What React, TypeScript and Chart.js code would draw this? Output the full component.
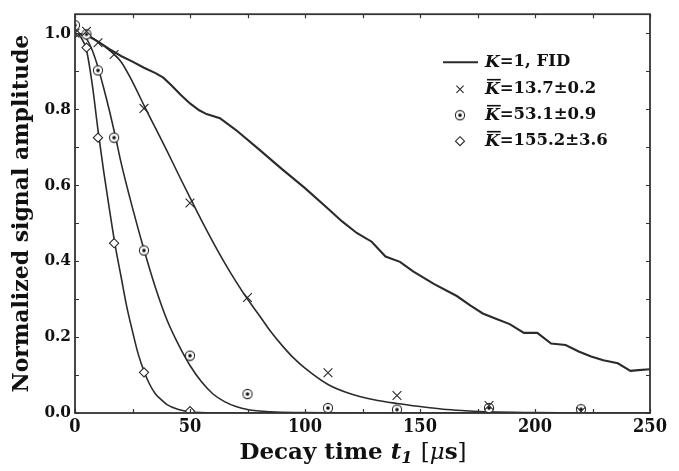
import React, { useEffect, useRef } from 'react';
import { Chart, registerables } from 'chart.js';

Chart.register(...registerables);

// ---------- data ----------
const fidT = [0, 5, 10, 15, 20, 25, 30, 35, 38.4, 42, 45.7, 50, 54, 57.2, 63, 70, 80, 90, 100, 110.9, 116, 122.5, 129, 135, 141.3, 147, 156, 166, 172, 177.3, 183, 189, 195.2, 201, 207, 213.3, 219, 224.4, 229.7, 236, 241.5, 245, 250];
const fidY = [1.0, 0.995, 0.978, 0.958, 0.94, 0.925, 0.909, 0.895, 0.883, 0.862, 0.839, 0.815, 0.797, 0.787, 0.776, 0.745, 0.694, 0.642, 0.592, 0.533, 0.505, 0.474, 0.451, 0.412, 0.398, 0.373, 0.34, 0.308, 0.283, 0.262, 0.248, 0.234, 0.211, 0.211, 0.183, 0.179, 0.162, 0.149, 0.139, 0.131, 0.111, 0.113, 0.115];

const fitAT = [0, 5, 10, 15, 20, 25, 30, 35, 40, 45, 50, 55, 60, 65, 70, 75, 80, 85, 90, 95, 100, 110, 120, 130, 140, 150, 160, 170, 180, 200, 220, 250];
const fitAY = [1.0, 0.995, 0.978, 0.955, 0.925, 0.872, 0.81, 0.75, 0.69, 0.628, 0.567, 0.507, 0.45, 0.396, 0.346, 0.3, 0.258, 0.215, 0.178, 0.145, 0.118, 0.075, 0.05, 0.035, 0.025, 0.017, 0.01, 0.006, 0.003, 0.001, 0, 0];

const fitBT = [0, 2.5, 5, 7.5, 10, 12.5, 15, 17.5, 20, 25, 30, 35, 40, 45, 50, 55, 60, 65, 70, 75, 85, 100, 120, 250];
const fitBY = [1.0, 0.997, 0.985, 0.955, 0.91, 0.855, 0.795, 0.73, 0.66, 0.54, 0.43, 0.33, 0.245, 0.18, 0.125, 0.082, 0.05, 0.03, 0.017, 0.009, 0.003, 0.001, 0, 0];

const fitCT = [0, 2.5, 5, 7.5, 10, 12.5, 15, 17.5, 20, 22.5, 25, 27.5, 30, 32.5, 35, 37.5, 40, 45, 50, 60, 250];
const fitCY = [1.0, 0.99, 0.955, 0.865, 0.745, 0.635, 0.535, 0.44, 0.36, 0.28, 0.215, 0.155, 0.11, 0.075, 0.05, 0.035, 0.022, 0.009, 0.003, 0, 0];

const crossT = [0, 5, 10, 17, 30, 50, 75, 110, 140, 180, 220];
const crossY = [1.0, 1.005, 0.975, 0.944, 0.802, 0.553, 0.304, 0.106, 0.046, 0.02, 0.004];

const dotT = [0, 5, 10, 17, 30, 50, 75, 110, 140, 180, 220];
const dotY = [1.021, 0.997, 0.902, 0.725, 0.428, 0.151, 0.05, 0.013, 0.009, 0.013, 0.01];

const diaT = [0, 5, 10, 17, 30, 50, 140, 220];
const diaY = [1.0, 0.962, 0.725, 0.447, 0.107, 0.005, 0.0, 0.0];

const xTickVals = [0, 25, 50, 75, 100, 125, 150, 175, 200, 225, 250];
const yTickVals = [0, 0.1, 0.2, 0.3, 0.4, 0.5, 0.6, 0.7, 0.8, 0.9, 1.0];

const legendLabels = ['K=1, FID', 'K\u0304=13.7\u00b10.2', 'K\u0304=53.1\u00b10.9', 'K\u0304=155.2\u00b13.6'];
// x-axis title pieces: [text, style]
const xTitleParts: [string, string][] = [
  ['Decay time ', 'b'],
  ['t', 'bi'],
  ['1', 'sub'],
  [' [', 'n'],
  ['\u03bc', 'i'],
  ['s', 'b'],
  [']', 'n'],
];
const yTitle = 'Normalized signal amplitude';

// ---------- styles ----------
const INK = '#2b2b2b';
const SERIF = "'DejaVu Serif', serif";
const SERIF_C = "'DejaVu Serif Condensed', 'DejaVu Serif', serif";

const pts = (t: number[], y: number[]) => t.map((v, i) => ({ x: v, y: y[i] }));

function makeDotMarker(): HTMLCanvasElement {
  const c = document.createElement('canvas');
  c.width = 12; c.height = 12;
  const g = c.getContext('2d')!;
  g.beginPath();
  g.arc(6, 6, 4.6, 0, Math.PI * 2);
  g.fillStyle = '#fff';
  g.fill();
  g.lineWidth = 1.1;
  g.strokeStyle = INK;
  g.stroke();
  g.beginPath();
  g.arc(6, 6, 1.8, 0, Math.PI * 2);
  g.fillStyle = '#111';
  g.fill();
  return c;
}

let dotMarkerCanvas: HTMLCanvasElement | null = null;

const framePlugin = {
  id: 'frameTicks',
  afterDatasetsDraw(chart: any) {
    const { ctx, chartArea: a, scales } = chart;
    const xs = scales.x, ys = scales.y;
    ctx.save();
    ctx.strokeStyle = '#333';
    ctx.lineWidth = 1.2;
    ctx.beginPath();
    for (const t of xs.ticks) {
      const px = Math.round(xs.getPixelForValue(t.value)) + 0.5;
      ctx.moveTo(px, a.bottom); ctx.lineTo(px, a.bottom - 4);
      ctx.moveTo(px, a.top); ctx.lineTo(px, a.top + 4);
    }
    for (const t of ys.ticks) {
      const py = Math.round(ys.getPixelForValue(t.value)) + 0.5;
      ctx.moveTo(a.left, py); ctx.lineTo(a.left + 4, py);
      ctx.moveTo(a.right, py); ctx.lineTo(a.right - 4, py);
    }
    ctx.stroke();
    ctx.lineWidth = 1.8;
    ctx.strokeStyle = '#333';
    ctx.strokeRect(a.left, a.top, a.right - a.left, a.bottom - a.top);
    ctx.restore();
  },
};

const xTitlePlugin = {
  id: 'xTitle',
  afterDraw(chart: any) {
    const ctx = chart.ctx as CanvasRenderingContext2D;
    const a = chart.chartArea;
    const size = 23;
    const fontOf = (s: string) =>
      s === 'b' ? `bold ${size}px ${SERIF}` :
      s === 'bi' ? `italic bold ${size}px ${SERIF}` :
      s === 'sub' ? `italic bold ${Math.round(size * 0.68)}px ${SERIF}` :
      s === 'i' ? `italic ${size}px ${SERIF}` : `${size}px ${SERIF}`;
    ctx.save();
    ctx.fillStyle = '#111';
    ctx.textBaseline = 'alphabetic';
    ctx.textAlign = 'left';
    let total = 0;
    const widths = xTitleParts.map(([t, s]) => { ctx.font = fontOf(s); const w = ctx.measureText(t).width; total += w; return w; });
    let x = (a.left + a.right) / 2 - 10 - total / 2;
    const base = a.bottom + 46;
    xTitleParts.forEach(([t, s], i) => {
      ctx.font = fontOf(s);
      ctx.fillText(t, x, s === 'sub' ? base + 4 : base);
      x += widths[i] + (s === 'sub' ? 1 : 0);
    });
    ctx.restore();
  },
};

const legendPlugin = {
  id: 'customLegend',
  afterDraw(chart: any) {
    const ctx = chart.ctx as CanvasRenderingContext2D;
    const a = chart.chartArea;
    const mx = a.right - 190;
    const tx = a.right - 165;
    const rowY = [a.top + 48, a.top + 75, a.top + 101, a.top + 127];
    const dot = dotMarkerCanvas;
    ctx.save();
    ctx.strokeStyle = INK;
    ctx.fillStyle = '#111';
    legendLabels.forEach((label, i) => {
      const y = rowY[i];
      ctx.lineWidth = 1.1;
      if (i === 0) {
        ctx.lineWidth = 2;
        ctx.beginPath();
        ctx.moveTo(mx - 17, y); ctx.lineTo(mx + 18, y);
        ctx.stroke();
      } else if (i === 1) {
        const r = 3.6;
        ctx.beginPath();
        ctx.moveTo(mx - r, y - r); ctx.lineTo(mx + r, y + r);
        ctx.moveTo(mx + r, y - r); ctx.lineTo(mx - r, y + r);
        ctx.stroke();
      } else if (i === 2) {
        if (dot) ctx.drawImage(dot, mx - dot.width / 2, y - dot.height / 2);
      } else {
        const r = 4.5;
        ctx.beginPath();
        ctx.moveTo(mx, y - r); ctx.lineTo(mx + r, y); ctx.lineTo(mx, y + r); ctx.lineTo(mx - r, y); ctx.closePath();
        ctx.fillStyle = '#fff'; ctx.fill();
        ctx.stroke();
        ctx.fillStyle = '#111';
      }
      ctx.textBaseline = 'middle';
      ctx.textAlign = 'left';
      let x = tx;
      const first = label[0];
      let rest = label.slice(1);
      const bar = rest.startsWith('\u0304');
      if (bar) rest = rest.slice(1);
      ctx.font = `italic bold 17px ${SERIF}`;
      const kw = ctx.measureText(first).width;
      ctx.fillText(first, x, y);
      if (bar) {
        ctx.lineWidth = 1.6;
        ctx.strokeStyle = '#111';
        ctx.beginPath();
        ctx.moveTo(x + 2, y - 9.5); ctx.lineTo(x + kw + 1, y - 9.5);
        ctx.stroke();
        ctx.strokeStyle = INK;
      }
      x += kw;
      ctx.font = `bold 16.5px ${SERIF}`;
      ctx.fillText(rest, x, y);
    });
    ctx.restore();
  },
};

export default function App() {
  const ref = useRef<HTMLCanvasElement>(null);
  useEffect(() => {
    dotMarkerCanvas = makeDotMarker();
    const lineDs = (label: string, data: any[], width: number, smooth: boolean) => ({
      type: 'line' as const,
      label,
      data,
      borderColor: INK,
      borderWidth: width,
      pointRadius: 0,
      fill: false,
      cubicInterpolationMode: smooth ? ('monotone' as const) : ('default' as const),
      tension: 0,
      order: 2,
    });
    const markDs = (label: string, data: any[], style: any, radius: number) => ({
      type: 'line' as const,
      label,
      data,
      showLine: false,
      pointStyle: style,
      pointRadius: radius,
      pointBorderColor: INK,
      pointBackgroundColor: '#fff',
      pointBorderWidth: 1.1,
      order: 1,
    });
    const chart: any = new Chart(ref.current!, {
      type: 'line',
      data: {
        datasets: [
          lineDs(legendLabels[0], pts(fidT, fidY), 2.1, false),
          lineDs('fit ' + legendLabels[1], pts(fitAT, fitAY), 1.6, true),
          lineDs('fit ' + legendLabels[2], pts(fitBT, fitBY), 1.6, true),
          lineDs('fit ' + legendLabels[3], pts(fitCT, fitCY), 1.6, true),
          markDs(legendLabels[1], pts(crossT, crossY), 'crossRot', 6.2),
          markDs(legendLabels[2], pts(dotT, dotY), dotMarkerCanvas, 5),
          markDs(legendLabels[3], pts(diaT, diaY), 'rectRot', 4.6),
        ] as any,
      },
      options: {
        animation: false,
        responsive: false,
        layout: { padding: { top: 13, right: 29, left: 0, bottom: 0 } },
        plugins: {
          legend: { display: false },
          tooltip: { enabled: false },
        },
        scales: {
          x: {
            type: 'linear',
            min: 0,
            max: 250,
            grid: { display: false, drawTicks: false },
            border: { display: false },
            afterBuildTicks: (s: any) => { s.ticks = xTickVals.map((v) => ({ value: v })); },
            ticks: {
              autoSkip: false,
              maxRotation: 0,
              padding: 4,
              color: '#111',
              font: { family: SERIF_C, size: 18, weight: 'bold' },
              callback: (v: any) => (Number(v) % 50 === 0 ? String(v) : ''),
            },
            title: { display: false },
            afterFit: (s: any) => { s.height = 58; },
          },
          y: {
            type: 'linear',
            min: 0,
            max: 1.05,
            grid: { display: false, drawTicks: false },
            border: { display: false },
            afterBuildTicks: (s: any) => { s.ticks = yTickVals.map((v) => ({ value: v })); },
            ticks: {
              autoSkip: false,
              padding: 4,
              color: '#111',
              font: { family: SERIF_C, size: 17, weight: 'bold' },
              callback: (v: any) => {
                const k = Math.round(Number(v) * 10);
                return k % 2 === 0 ? (k / 10).toFixed(1) : '';
              },
            },
            title: {
              display: true,
              text: yTitle,
              color: '#111',
              font: { family: SERIF, size: 22, weight: 'bold' },
              padding: { top: 9, bottom: 0 },
            },
            afterFit: (s: any) => { s.width = 75; },
          },
        },
      } as any,
      plugins: [framePlugin, legendPlugin, xTitlePlugin],
    });
    return () => chart.destroy();
  }, []);
  return (
    <div style={{ position: 'absolute', left: 0, top: 0, width: 679, height: 471, background: '#fff' }}>
      <canvas ref={ref} width={679} height={471} style={{ display: 'block' }} />
    </div>
  );
}
